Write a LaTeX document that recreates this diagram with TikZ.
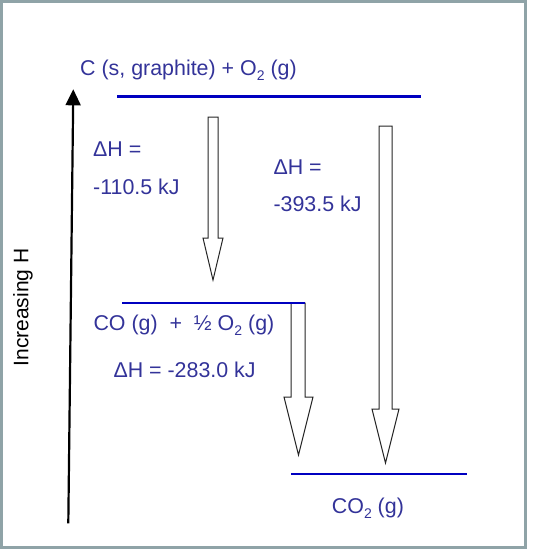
\documentclass[tikz,border=0pt]{standalone}
\usepackage{fontspec}
\setmainfont{Liberation Sans}
\usetikzlibrary{arrows.meta}
\definecolor{txt}{HTML}{333399}
\definecolor{lvl}{HTML}{0000C0}
\definecolor{frm}{HTML}{8FA3A7}
\newcommand{\mysub}[1]{\raisebox{-0.22em}{\fontsize{14}{14}\selectfont #1}}
\begin{document}
\begin{tikzpicture}[x=1pt,y=-1pt,
  lab/.style={text=txt, font=\fontsize{21.4}{25}\selectfont, inner sep=0pt, anchor=base west},
  level/.style={draw=lvl, line width=2.9pt},
  barrow/.style={draw=black!85, line width=1pt, fill=white},
  axis/.style={line width=2.2pt, -{Triangle[length=16pt,width=15pt]}}]
\useasboundingbox (0,0) rectangle (539,550);
\draw[frm, line width=3pt] (1.5,1.5) rectangle (525,547.5);
% axis
\coordinate (axb) at (68.3,523.3);
\coordinate (axt) at (73.3,89.3);
\draw[axis] (axb) -- (axt);
\node[text=black, font=\fontsize{21}{25}\selectfont, rotate=90, anchor=base west, inner sep=0pt] (axl) at (28.3,366.7) {Increasing H};
% block arrows
\draw[barrow] (208,117) -- (218,117) -- (218,238) -- (223,238) -- (213,280) -- (203,238) -- (208,238) -- cycle;
\draw[barrow] (379,126) -- (392,126) -- (392,409) -- (399,409) -- (385.5,463) -- (372,409) -- (379,409) -- cycle;
\draw[barrow] (291,303) -- (305,303) -- (305,397) -- (313,397) -- (298.5,455) -- (284,397) -- (291,397) -- cycle;
% levels
\coordinate (l1a) at (117,96.5); \coordinate (l1b) at (421,96.5);
\coordinate (l2a) at (122,303); \coordinate (l2b) at (305,303);
\coordinate (l3a) at (291,474); \coordinate (l3b) at (467,474);
\draw[level] (l1a) -- (l1b);
\draw[level] (l2a) -- (l2b);
\draw[level] (l3a) -- (l3b);
% labels
\node[lab] (r1) at (80,75.7) {C (s, graphite) + O\mysub{2} (g)};
\node[lab] (dh1a) at (93,156.7) {ΔH =};
\node[lab] (dh1b) at (93,194) {-110.5 kJ};
\node[lab] (dh2a) at (273.3,174) {ΔH =};
\node[lab] (dh2b) at (273.3,211.7) {-393.5 kJ};
\node[lab] (r2) at (93.3,330.7) {CO (g)\ \ +\ \ ½ O\mysub{2} (g)};
\node[lab] (dh3) at (113.3,377.3) {ΔH = -283.0 kJ};
\node[lab] (r3) at (331.7,513.3) {CO\mysub{2} (g)};
\end{tikzpicture}
\end{document}
